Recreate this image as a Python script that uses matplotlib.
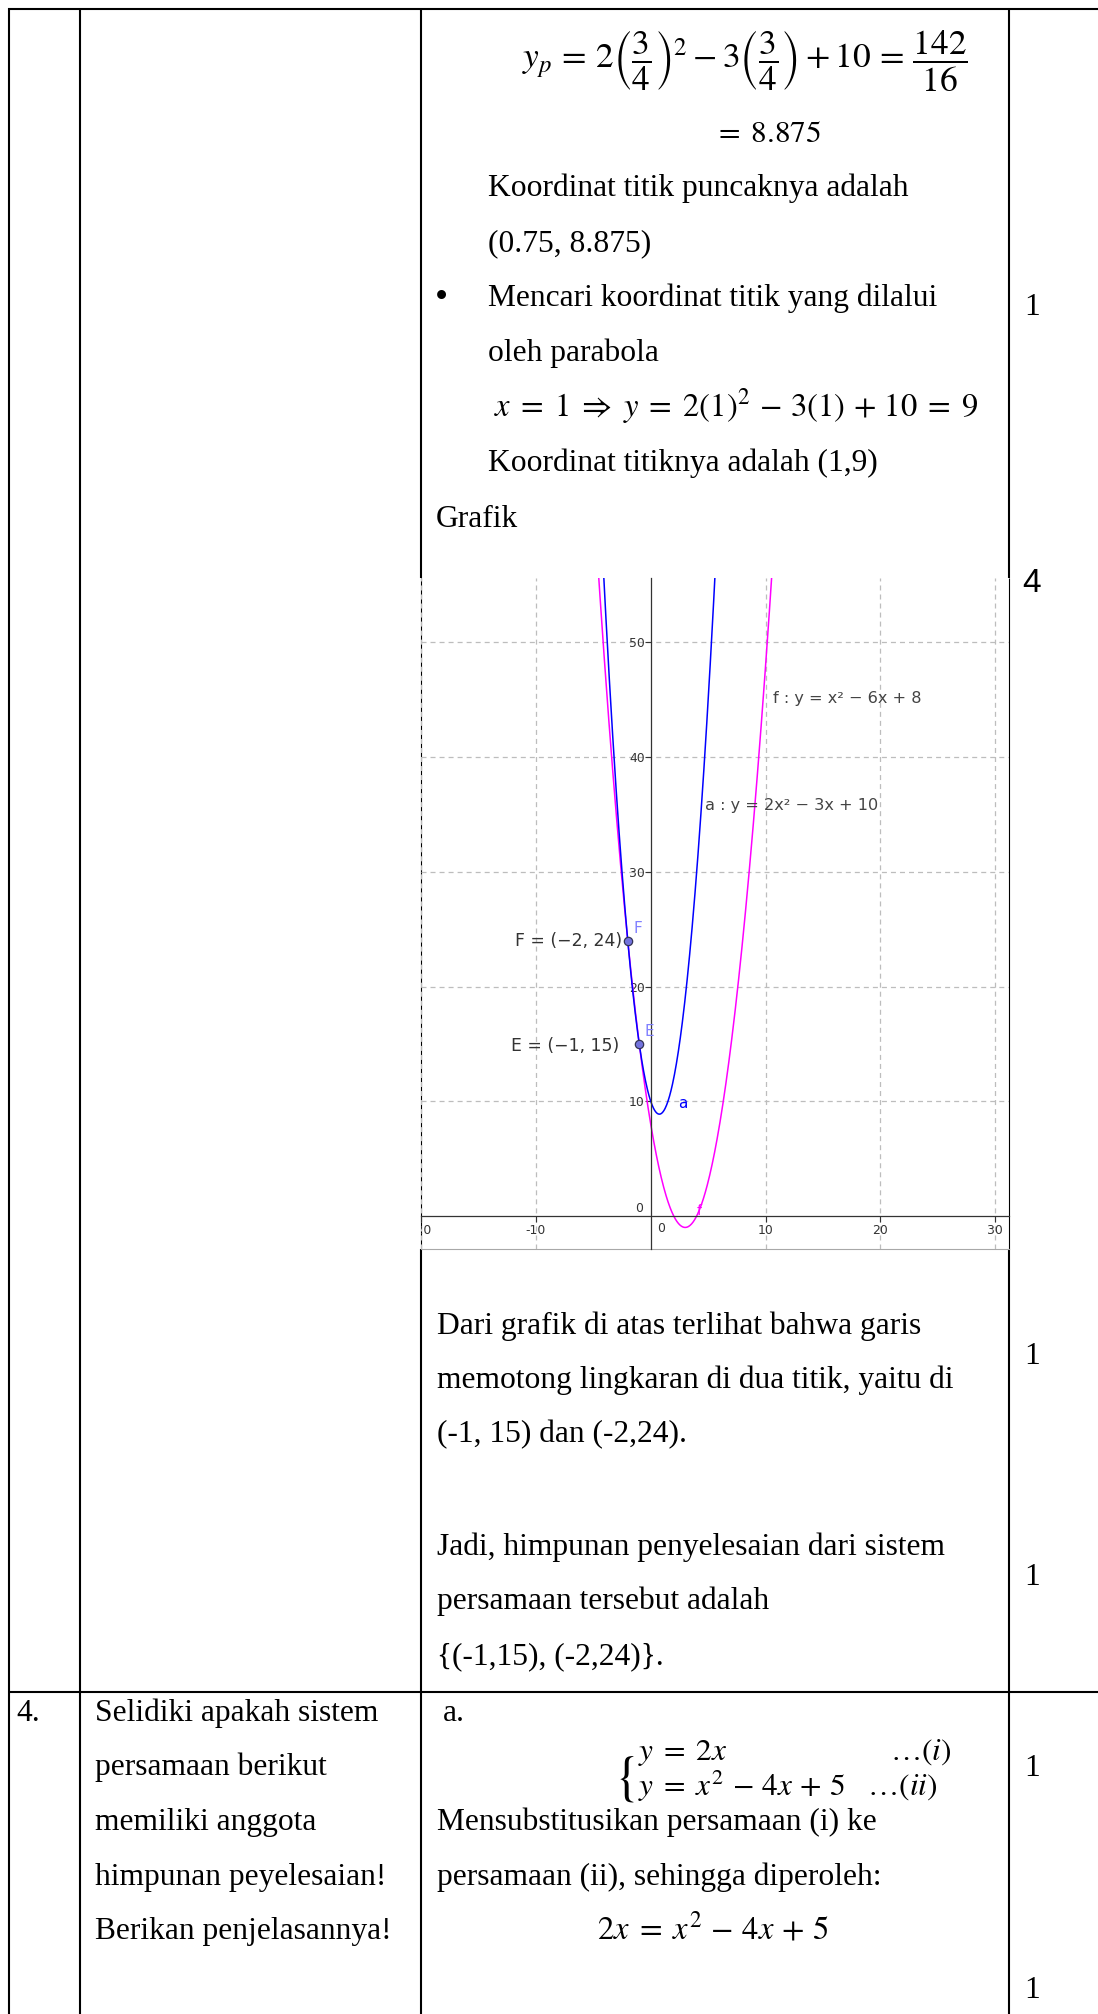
import numpy as np
import matplotlib
matplotlib.use("Agg")
import matplotlib.pyplot as plt

# page size in pixels (dpi 100)
W, H = 1098, 2014

# parabolas shown in the graph, as polynomial coefficients
F_COEF = [1, -6, 8]      # f : y = x^2 - 6x + 8
A_COEF = [2, -3, 10]     # a : y = 2x^2 - 3x + 10
PTS_X = [-2, -1]
PTS_Y = [24, 15]
PTS_NAME = ["F", "E"]
PTS_LABEL = ["F = (\u22122, 24)", "E = (\u22121, 15)"]
X_TICKS = [-20, -10, 10, 20, 30]
Y_TICKS = [10, 20, 30, 40, 50]
XLIM = (-19.94, 31.19)
YLIM = (-2.88, 55.62)

# scores column
SCORES = ["1", "1", "1", "1", "1"]
SCORE_Y = [315, 1364, 1585, 1776, 1998]

plt.rcParams["mathtext.fontset"] = "stix"
plt.rcParams["axes.unicode_minus"] = False
plt.rcParams["lines.scale_dashes"] = False

TXT = 22.7     # body text size (pt)
MTH = 23.5     # equation size (pt)
SERIF = "Liberation Serif"

fig = plt.figure(figsize=(W / 100, H / 100), dpi=100)
pg = fig.add_axes([0, 0, 1, 1])
pg.set_xlim(0, W)
pg.set_ylim(H, 0)
pg.axis("off")


def txt(x, y, s, size=TXT, **kw):
    pg.text(x, y, s, fontsize=size, family=SERIF, va="baseline", ha="left",
            color="black", **kw)


def eq(x, y, s, ha="left", size=MTH):
    pg.text(x, y, s, fontsize=size, va="baseline", ha=ha, color="black")


# ── table borders ────────────────────────────────────────────────────────
LW = 1.5
pg.plot([8, W], [8.5, 8.5], color="black", lw=LW, solid_capstyle="butt")
pg.plot([8, W], [1692, 1692], color="black", lw=LW, solid_capstyle="butt")
for x in (9, 80):
    pg.plot([x, x], [8, H], color="black", lw=LW, solid_capstyle="butt")
for x in (421, 1009):
    pg.plot([x, x], [8, 578], color="black", lw=LW, solid_capstyle="butt")
    pg.plot([x, x], [1249, H], color="black", lw=LW, solid_capstyle="butt")
    pg.plot([x, x], [578, 1249], color="black", lw=0.8, solid_capstyle="butt")
pg.plot([421, 1009], [1249, 1249], color="#a8a8a8", lw=0.8)

# ── row 3 (continued) ────────────────────────────────────────────────────
eq(522, 68, r"$y_p \,=\, 2\left(\dfrac{3}{4}\right)^2 - 3\left(\dfrac{3}{4}\right) + 10 \,=\, \dfrac{142}{16}$",
   size=25.5)
eq(714, 142, r"$=\; 8.875$", size=22.5)
txt(488, 196, "Koordinat titik puncaknya adalah")
txt(488, 251, "(0.75, 8.875)")
txt(435, 308, "\u2022", size=27)
txt(488, 306, "Mencari koordinat titik yang dilalui")
txt(488, 361, "oleh parabola")
eq(494, 416, r"$x \;=\; 1 \;\Rightarrow\; y \;=\; 2(1)^2 \,-\, 3(1) \,+\, 10 \;=\; 9$")
txt(488, 471, "Koordinat titiknya adalah (1,9)")
txt(436, 527, "Grafik")
pg.text(1022, 592, "4", fontsize=24, family="Liberation Sans", va="baseline")

txt(437, 1334, "Dari grafik di atas terlihat bahwa garis")
txt(437, 1388, "memotong lingkaran di dua titik, yaitu di")
txt(437, 1442, "(-1, 15) dan (-2,24).")
txt(437, 1555, "Jadi, himpunan penyelesaian dari sistem")
txt(437, 1609, "persamaan tersebut adalah")
txt(437, 1664, "{(-1,15), (-2,24)}.")

# ── row 4 ────────────────────────────────────────────────────────────────
txt(16, 1721, "4.")
for i, s in enumerate(["Selidiki apakah sistem", "persamaan berikut",
                       "memiliki anggota", "himpunan peyelesaian!",
                       "Berikan penjelasannya!"]):
    txt(95, 1721 + 54.5 * i, s)
txt(443, 1721, "a.")
pg.text(634, 1778, r"$\{$", fontsize=38, va="center", ha="right")
eq(638, 1760, r"$y \;=\; 2x$", size=22.5)
eq(951, 1760, r"$\ldots(i)$", ha="right", size=22.5)
eq(638, 1796, r"$y \;=\; x^2 \,-\, 4x \,+\, 5\quad\ldots(ii)$", size=22.5)
txt(437, 1830, "Mensubstitusikan persamaan (i) ke")
txt(437, 1885, "persamaan (ii), sehingga diperoleh:")
eq(713, 1939, r"$2x \;=\; x^2 \,-\, 4x \,+\, 5$", ha="center")

for s, y in zip(SCORES, SCORE_Y):
    txt(1024, y, s)

# ── graph ────────────────────────────────────────────────────────────────
ax = fig.add_axes([421 / W, 1 - 1249 / H, 588 / W, 671 / H])
ax.set_facecolor("none")
ax.set_xlim(*XLIM)
ax.set_ylim(*YLIM)

ax.set_xticks(X_TICKS)
ax.set_yticks(Y_TICKS)
ax.set_xticklabels([str(v) for v in X_TICKS])
ax.set_yticklabels([str(v) for v in Y_TICKS])
ax.grid(True, color="#bdbdbd", lw=0.9, linestyle=(0, (3.6, 2.9)))
ax.set_axisbelow(True)

for side in ("top", "right"):
    ax.spines[side].set_visible(False)
for side in ("left", "bottom"):
    ax.spines[side].set_position(("data", 0))
    ax.spines[side].set_color("#333333")
    ax.spines[side].set_linewidth(0.9)
ax.tick_params(direction="out", length=4.3, width=0.8, color="#333333",
               labelsize=8.9, labelcolor="#333333")
ax.tick_params(axis="y", pad=0)
ax.tick_params(axis="x", pad=1.2)
for lbl in ax.get_xticklabels() + ax.get_yticklabels():
    lbl.set_family("DejaVu Sans")
first = ax.get_xticklabels()[0]
first.set_clip_on(True)
first.set_clip_box(ax.bbox)
ax.annotate("0", (0, 0), xytext=(-12, 7), textcoords="offset pixels",
            ha="center", va="center", fontsize=8.9, color="#333333")
ax.annotate("0", (0, 0), xytext=(10, -13), textcoords="offset pixels",
            ha="center", va="center", fontsize=8.9, color="#333333")

xs = np.linspace(XLIM[0], XLIM[1], 1200)
ax.plot(xs, np.polyval(F_COEF, xs), color="#ff00ff", lw=1.1, clip_on=True)
ax.plot(xs, np.polyval(A_COEF, xs), color="#0000ff", lw=1.1, clip_on=True)

ax.plot(PTS_X, PTS_Y, "o", ms=6, mfc="#7373dd", mec="#333355", mew=0.9,
        zorder=5)
ax.text(-1.5, 24.7, PTS_NAME[0], color="#8080ff", fontsize=11, va="baseline")
ax.text(-0.55, 15.7, PTS_NAME[1], color="#8080ff", fontsize=11, va="baseline")
ax.text(-11.85, 23.5, PTS_LABEL[0], color="#333333", fontsize=12.4, va="baseline")
ax.text(-12.2, 14.4, PTS_LABEL[1], color="#333333", fontsize=12.4, va="baseline")

ax.text(10.67, 44.75, "f : y = x\u00b2 \u2212 6x + 8", color="#444444",
        fontsize=11.6, va="baseline")
ax.text(4.76, 35.4, "a : y = 2x\u00b2 \u2212 3x + 10", color="#444444",
        fontsize=11.6, va="baseline")
ax.text(2.4, 9.4, "a", color="#0000ff", fontsize=11, va="baseline")
ax.text(4.0, 0.1, "f", color="#ff00ff", fontsize=10, va="baseline")

fig.savefig("out.png", dpi=100)
